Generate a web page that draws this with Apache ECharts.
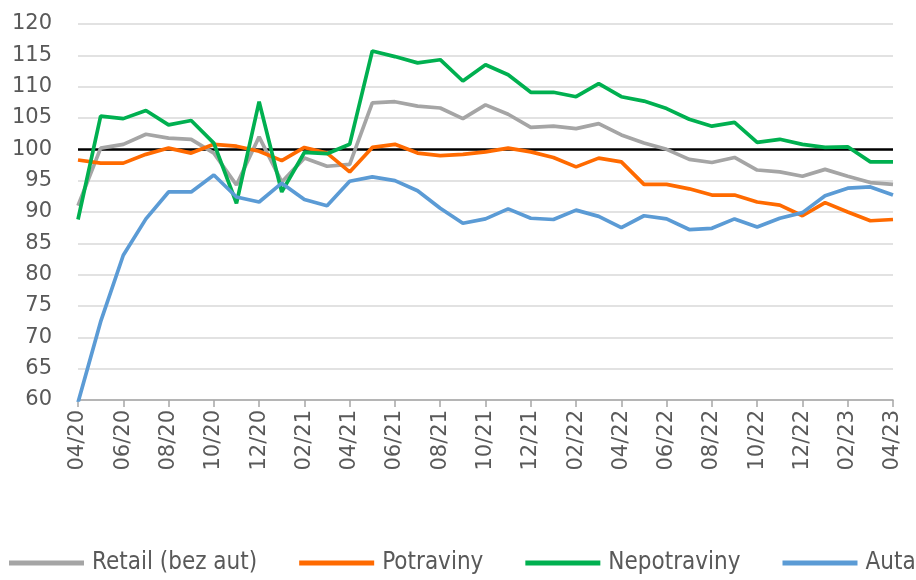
<!DOCTYPE html>
<html>
<head>
<meta charset="utf-8">
<script src="https://cdn.jsdelivr.net/npm/echarts@6/dist/echarts.min.js"></script>
<style>html,body{margin:0;padding:0;background:#fff}#c{width:916px;height:580px}</style>
</head>
<body>
<div id="c"></div>
<script>
const categories = ["04/20","05/20","06/20","07/20","08/20","09/20","10/20","11/20","12/20","01/21","02/21","03/21","04/21","05/21","06/21","07/21","08/21","09/21","10/21","11/21","12/21","01/22","02/22","03/22","04/22","05/22","06/22","07/22","08/22","09/22","10/22","11/22","12/22","01/23","02/23","03/23","04/23"];
const retail = [91.0,100.2,100.8,102.4,101.8,101.6,99.4,94.3,102.0,94.8,98.6,97.3,97.6,107.4,107.6,106.9,106.6,104.9,107.1,105.6,103.5,103.7,103.3,104.1,102.3,101.0,100.0,98.4,97.9,98.7,96.7,96.4,95.7,96.8,95.7,94.7,94.4];
const potraviny = [98.3,97.8,97.8,99.2,100.2,99.4,100.8,100.5,99.7,98.2,100.3,99.4,96.4,100.3,100.8,99.4,99.0,99.2,99.6,100.2,99.6,98.7,97.2,98.6,98.0,94.4,94.4,93.7,92.7,92.7,91.6,91.1,89.4,91.5,90.0,88.6,88.8];
const nepotraviny = [88.8,105.3,104.9,106.2,103.9,104.6,101.0,91.4,107.6,93.2,99.5,99.3,100.8,115.7,114.8,113.8,114.3,110.9,113.5,111.9,109.1,109.1,108.4,110.5,108.4,107.7,106.5,104.8,103.7,104.3,101.1,101.6,100.8,100.3,100.4,98.0,98.0];
const auta = [59.6,72.5,83.1,88.9,93.2,93.2,95.9,92.4,91.6,94.6,92.0,91.0,94.9,95.6,95.0,93.4,90.6,88.2,88.9,90.5,89.0,88.8,90.3,89.3,87.5,89.4,88.9,87.2,87.4,88.9,87.6,89.0,89.9,92.6,93.8,94.0,92.7];
const seriesNames = ["Retail (bez aut)","Potraviny","Nepotraviny","Auta"];
const referenceLevel = 100;

const colors = ["#A5A5A5","#FF6A00","#00B050","#5B9BD5"];
const dataSets = [retail, potraviny, nepotraviny, auta];
const axisFont = "'DejaVu Sans', sans-serif";
const legendFont = "'DejaVu Sans Condensed', 'Liberation Sans Narrow', 'DejaVu Sans', sans-serif";

const chart = echarts.init(document.getElementById('c'), null, {renderer:'canvas'});
const series = dataSets.map((d, i) => ({
  name: seriesNames[i],
  type: 'line',
  data: d,
  symbol: 'none',
  smooth: false,
  lineStyle: {color: colors[i], width: 3.7},
  itemStyle: {color: colors[i]},
  z: 3 + i,
  markLine: i === 0 ? {
    silent: true,
    symbol: 'none',
    label: {show: false},
    lineStyle: {color: '#000', width: 2.5, type: 'solid'},
    data: [{yAxis: referenceLevel}],
    z: 2
  } : undefined
}));

chart.setOption({
  animation: false,
  backgroundColor: '#fff',
  grid: {left: 78, right: 23, top: 24, bottom: 180, containLabel: false},
  xAxis: {
    type: 'category',
    data: categories,
    boundaryGap: false,
    axisLine: {lineStyle: {color: '#A6A6A6', width: 1.5}},
    axisTick: {show: true, interval: 1, length: 7, lineStyle: {color: '#A6A6A6', width: 1.5}},
    axisLabel: {interval: 1, rotate: 90, margin: 10, color: '#595959', fontSize: 21, fontFamily: axisFont},
    splitLine: {show: false}
  },
  yAxis: {
    type: 'value',
    min: 60, max: 120, interval: 5,
    axisLine: {show: false},
    axisTick: {show: false},
    axisLabel: {color: '#595959', fontSize: 21, fontFamily: axisFont, margin: 26},
    splitLine: {lineStyle: {color: '#D9D9D9', width: 1.5}}
  },
  legend: {
    data: seriesNames.map((n) => ({name: n, icon: 'rect'})),
    left: 4, bottom: 0, width: 1200,
    itemWidth: 75, itemHeight: 5, itemGap: 42,
    textStyle: {color: '#595959', fontSize: 24, fontFamily: legendFont, padding: [0,0,0,3]}
  },
  series: series
});
</script>
</body>
</html>
